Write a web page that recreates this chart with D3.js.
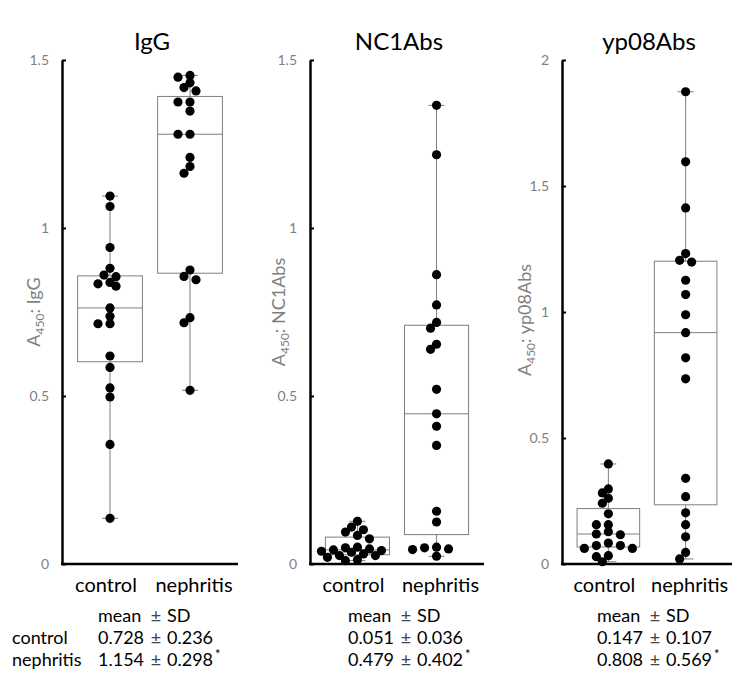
<!DOCTYPE html>
<html>
<head>
<meta charset="utf-8">
<script src="https://cdn.jsdelivr.net/npm/d3@7"></script>
<style>
    body { margin: 0; background: #fff; }
    text { font-family: Lato, "Open Sans", sans-serif; }
</style>
</head>
<body>
<script>
// values
const groups = ['control', 'nephritis'];
const titles = ['IgG', 'NC1Abs', 'yp08Abs'];
const yMax = [1.5, 1.5, 2];
const yTicks = [[0, 0.5, 1, 1.5], [0, 0.5, 1, 1.5], [0, 0.5, 1, 1.5, 2]];

const iggControl = [1.095, 1.064, 0.942, 0.880, 0.860, 0.855, 0.838, 0.834, 0.827, 0.762, 0.737, 0.715, 0.715, 0.619, 0.585, 0.524, 0.497, 0.356, 0.136];
const iggNephritis = [1.454, 1.449, 1.432, 1.418, 1.408, 1.375, 1.375, 1.348, 1.279, 1.279, 1.210, 1.183, 1.163, 0.875, 0.856, 0.846, 0.733, 0.718, 0.517];
const nc1Control = [0.127, 0.110, 0.102, 0.095, 0.085, 0.075, 0.050, 0.048, 0.045, 0.042, 0.040, 0.038, 0.035, 0.030, 0.025, 0.025, 0.020, 0.013, 0.010];
const nc1Nephritis = [1.365, 1.218, 0.861, 0.771, 0.719, 0.702, 0.654, 0.639, 0.520, 0.447, 0.410, 0.353, 0.157, 0.125, 0.050, 0.048, 0.045, 0.043, 0.023];
const yp08Control = [0.397, 0.298, 0.282, 0.261, 0.241, 0.199, 0.156, 0.156, 0.128, 0.119, 0.116, 0.083, 0.073, 0.073, 0.062, 0.062, 0.033, 0.029, 0.009];
const yp08Nephritis = [1.874, 1.596, 1.413, 1.232, 1.205, 1.198, 1.126, 1.069, 0.989, 0.918, 0.818, 0.735, 0.340, 0.267, 0.203, 0.156, 0.108, 0.046, 0.020];

const controlMean = [0.728, 0.051, 0.147];
const controlSd = [0.236, 0.036, 0.107];
const nephritisMean = [1.154, 0.479, 0.808];
const nephritisSd = [0.298, 0.402, 0.569];

const panelData = [
    [iggControl, iggNephritis],
    [nc1Control, nc1Nephritis],
    [yp08Control, yp08Nephritis]
];

const width = 750;
const height = 683;
const axisLeftX = [62, 310, 562];
const axisRightX = [238, 484, 732];
const yLabelPos = [[40, 312], [285, 312], [531, 320]];
const statsX = [98, 348, 597];
const plotTop = 60;
const plotBottom = 564;
const grey = '#7f7f7f';

const svg = d3.select('body').append('svg').attr('width', width).attr('height', height);

// simple swarm: put each dot as near the centre as it can go without overlapping too much
function swarm(values, y, cx)
{
    const placed = [];
    const sorted = values.slice().sort((a, b) => b - a);
    const minDist = 7;
    const step = 6;
    for (let v of sorted)
    {
        const py = y(v);
        let off = 0;
        for (let k = 0; k < 30; k++)
        {
            const cand = (k % 2 == 1 ? -1 : 1) * Math.ceil(k / 2) * step;
            const clash = placed.some(p => Math.hypot(p.x - (cx + cand), p.y - py) < minDist);
            if (!clash) { off = cand; break; }
        }
        placed.push({ x: cx + off, y: py, v: v });
    }
    return placed;
}

for (let i = 0; i < 3; i++)
{
    const g = svg.append('g');
    const x = d3.scalePoint().domain(groups).range([axisLeftX[i], axisRightX[i]]).padding(0.6);
    const y = d3.scaleLinear().domain([0, yMax[i]]).range([plotBottom, plotTop]);
    const boxW = x.step() * 0.81;

    // title
    g.append('text')
        .attr('x', (axisLeftX[i] + axisRightX[i]) / 2 + 2)
        .attr('y', 50)
        .attr('text-anchor', 'middle')
        .attr('font-size', 24)
        .attr('fill', '#000')
        .text(titles[i]);

    // y axis, ticks pointing inwards
    const yAxis = g.append('g')
        .attr('transform', `translate(${axisLeftX[i]},0)`)
        .call(d3.axisLeft(y).tickValues(yTicks[i]).tickSizeInner(-4).tickSizeOuter(0).tickPadding(13).tickFormat(d3.format('~g')));
    yAxis.select('.domain').attr('stroke', '#000').attr('stroke-width', 2.5);
    yAxis.selectAll('.tick line').attr('stroke', '#000').attr('stroke-width', 2);
    yAxis.selectAll('.tick text').attr('fill', grey).attr('font-size', 14).attr('font-family', 'Lato, sans-serif');

    // x axis line
    g.append('line')
        .attr('x1', axisLeftX[i] - 1).attr('x2', axisRightX[i])
        .attr('y1', y(0)).attr('y2', y(0))
        .attr('stroke', '#000').attr('stroke-width', 2.5);

    g.selectAll('.cat').data(groups).enter().append('text')
        .attr('x', (d, k) => x(d) + (k == 0 ? -4 : 4))
        .attr('y', 592)
        .attr('text-anchor', 'middle')
        .attr('font-size', 20)
        .attr('fill', '#000')
        .text(d => d);

    // y label with subscript
    const lab = g.append('text')
        .attr('transform', `translate(${yLabelPos[i][0]},${yLabelPos[i][1]}) rotate(-90)`)
        .attr('text-anchor', 'middle')
        .attr('font-size', 18)
        .attr('fill', grey);
    lab.append('tspan').text('A');
    lab.append('tspan').attr('font-size', 12).attr('dy', 4).text('450');
    lab.append('tspan').attr('dy', -4).text(': ' + titles[i]);

    groups.forEach((grp, j) =>
    {
        const vals = panelData[i][j].slice().sort(d3.ascending);
        const q1 = d3.quantile(vals, 0.25);
        const med = d3.quantile(vals, 0.5);
        const q3 = d3.quantile(vals, 0.75);
        const lo = d3.min(vals);
        const hi = d3.max(vals);
        const cx = x(grp);

        const bg = g.append('g').attr('stroke', grey).attr('stroke-width', 1).attr('fill', 'none');
        bg.append('line').attr('x1', cx).attr('x2', cx).attr('y1', y(hi)).attr('y2', y(q3));
        bg.append('line').attr('x1', cx).attr('x2', cx).attr('y1', y(q1)).attr('y2', y(lo));
        bg.append('line').attr('x1', cx - 8).attr('x2', cx + 8).attr('y1', y(hi)).attr('y2', y(hi));
        bg.append('line').attr('x1', cx - 8).attr('x2', cx + 8).attr('y1', y(lo)).attr('y2', y(lo));
        bg.append('rect')
            .attr('x', cx - boxW / 2).attr('width', boxW)
            .attr('y', y(q3)).attr('height', y(q1) - y(q3));
        bg.append('line').attr('x1', cx - boxW / 2).attr('x2', cx + boxW / 2).attr('y1', y(med)).attr('y2', y(med));

        g.selectAll('.dot' + j).data(swarm(panelData[i][j], y, cx)).enter().append('circle')
            .attr('cx', d => d.x)
            .attr('cy', d => d.y)
            .attr('r', 4.6)
            .attr('fill', '#000');
    });

    // mean ± SD table, three aligned columns
    const rows = [
        ['mean', 'SD', false],
        [controlMean[i].toFixed(3), controlSd[i].toFixed(3), false],
        [nephritisMean[i].toFixed(3), nephritisSd[i].toFixed(3), true]
    ];
    const t = g.append('g').attr('font-size', 18).attr('fill', '#000');
    rows.forEach((r, k) =>
    {
        const yy = 622 + k * 22;
        t.append('text').attr('x', statsX[i]).attr('y', yy).text(r[0]);
        t.append('text').attr('x', statsX[i] + 58).attr('y', yy).attr('text-anchor', 'middle')
            .attr('fill', '#444').text('\u00b1');
        const sd = t.append('text').attr('x', statsX[i] + 69).attr('y', yy).text(r[1]);
        if (r[2])
            sd.append('tspan').attr('font-size', 13).attr('dy', -7).attr('dx', 2).text('*');
    });
}

svg.append('text').attr('x', 12).attr('y', 644).attr('font-size', 18).text('control');
svg.append('text').attr('x', 12).attr('y', 666).attr('font-size', 18).text('nephritis');
</script>
</body>
</html>
